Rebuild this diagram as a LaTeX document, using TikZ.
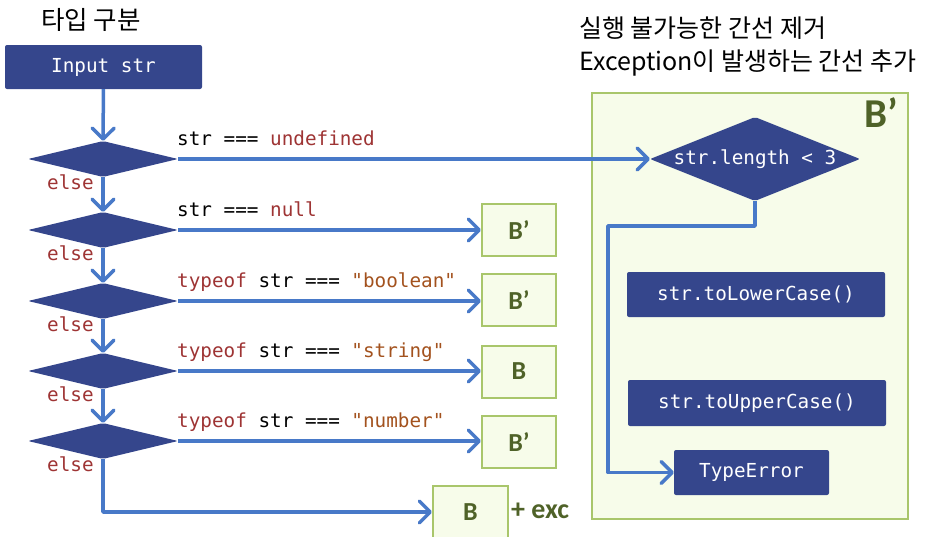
\documentclass[tikz,border=0pt]{standalone}
\usepackage{fontspec}
\setmonofont{DejaVu Sans Mono}
\newfontfamily\krfont{Noto Sans CJK KR}
\newfontfamily\calfont{Carlito}
\usepackage{tikz}
\usetikzlibrary{shapes.geometric,positioning,calc}
\usetikzlibrary{arrows.meta}
\definecolor{boxblue}{RGB}{53,70,140}
\definecolor{flowblue}{RGB}{72,121,200}
\definecolor{bgreen}{RGB}{169,198,107}
\definecolor{bfill}{RGB}{247,252,234}
\definecolor{bdark}{RGB}{79,98,40}
\definecolor{kwred}{RGB}{158,52,52}
\definecolor{strbrown}{RGB}{163,82,30}
\newcommand{\codefont}{\ttfamily\fontsize{19.3}{23}\selectfont}
\newcommand{\kw}[1]{\textcolor{kwred}{#1}}
\newcommand{\strlit}[1]{\textcolor{strbrown}{#1}}
\tikzset{
	cond/.style={diamond,fill=boxblue,inner sep=0pt,minimum width=150pt,minimum height=36pt,rounded corners=2pt},
	stmt/.style={rectangle,fill=boxblue,rounded corners=2pt,text=white,font=\codefont},
	blk/.style={rectangle,draw=bgreen,fill=bfill,line width=2pt,minimum width=74pt,minimum height=52pt,text=bdark,font=\calfont\bfseries\fontsize{26}{28}\selectfont},
	flow/.style={flowblue,line width=3.5pt,line join=round,-{Straight Barb[length=11pt,width=22pt,round]}},
	condlabel/.style={anchor=base west,inner sep=0pt,font=\codefont},
	elselabel/.style={anchor=base west,inner sep=0pt,font=\codefont,text=kwred}
}

\begin{document}
\begin{tikzpicture}[x=1pt,y=-1pt]
	\useasboundingbox (0,0) rectangle (929,536);
	
	\node[font=\krfont\fontsize{25.5}{28}\selectfont] (title) at (91,20) {타입 구분};
	\node[anchor=west,align=left,inner sep=0pt,font=\krfont\fontsize{25}{33}\selectfont] (note) at (579,47) {실행 불가능한 간선 제거\\Exception이 발생하는 간선 추가};
	
	\node[stmt,minimum width=197pt,minimum height=44pt] (input) at (103.5,67) {Input str};
	
	\node[cond] (d1) at (103,159) {};
	\node[cond] (d2) at (103,230) {};
	\node[cond] (d3) at (103,301) {};
	\node[cond] (d4) at (103,371) {};
	\node[cond] (d5) at (103,441) {};
	
	\node[condlabel] (c1) at (177,145) {str === \kw{undefined}};
	\node[condlabel] (c2) at (177,216) {str === \kw{null}};
	\node[condlabel] (c3) at (177,287) {\kw{typeof} str === \strlit{"boolean"}};
	\node[condlabel] (c4) at (177,357) {\kw{typeof} str === \strlit{"string"}};
	\node[condlabel] (c5) at (177,427) {\kw{typeof} str === \strlit{"number"}};
	
	\foreach \i/\y in {1/189,2/260,3/331,4/401,5/471}
		\node[elselabel] (else\i) at (47,\y) {else};
	
	\node[blk] (b2) at (519,230) {B’};
	\node[blk] (b3) at (519,300) {B’};
	\node[blk] (b4) at (519,371.5) {B};
	\node[blk] (b5) at (519,442) {B’};
	\node[blk,minimum width=75pt] (b6) at (470.5,512) {B};
	\node[anchor=west,inner sep=0pt,text=bdark,font=\calfont\bfseries\fontsize{28}{30}\selectfont] (exc) at (511,511) {+ exc};
	
	% B' block
	\node[rectangle,draw=bgreen,fill=bfill,line width=2pt,minimum width=316pt,minimum height=426pt] (grp) at (750,306) {};
	\node[text=bdark,font=\calfont\bfseries\fontsize{41}{44}\selectfont] (grplabel) at (881,113) {B’};
	
	\node[cond,aspect=2.5,text=white,font=\codefont] (len) at (755,159) {str.length < 3};
	\node[stmt,minimum width=258pt,minimum height=45pt] (lower) at (756,294.5) {str.toLowerCase()};
	\node[stmt,minimum width=258pt,minimum height=46pt] (upper) at (757,403) {str.toUpperCase()};
	\node[stmt,minimum width=155pt,minimum height=45pt] (err) at (751.5,472.5) {TypeError};
	
	\coordinate (bend) at (608,226);
	\coordinate (elseend) at (103,512);
	
	\draw[flow] (input) -- (d1);
	\draw[flow] (d1) -- (d2);
	\draw[flow] (d2) -- (d3);
	\draw[flow] (d3) -- (d4);
	\draw[flow] (d4) -- (d5);
	\draw[flow] (d1.east) -- (len.west);
	\draw[flow] (d2.east) -- (b2.west);
	\draw[flow] (d3.east) -- (d3.east -| b3.west);
	\draw[flow] (d4.east) -- (d4.east -| b4.west);
	\draw[flow] (d5.east) -- (d5.east -| b5.west);
	\draw[flow] (d5.south) -- (elseend) -- (b6.west);
	\draw[flow] (len.south) |- (bend) |- (err.west);

\end{tikzpicture}
\end{document}
